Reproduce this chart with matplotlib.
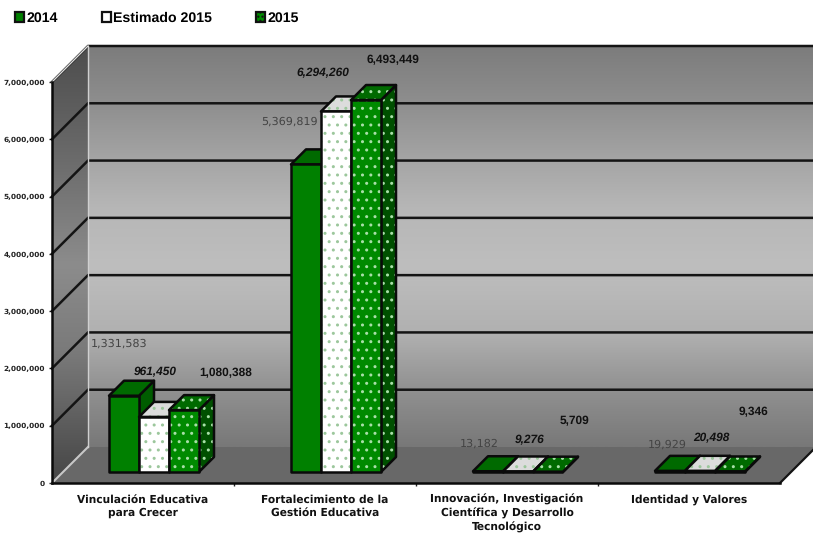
import numpy as np
import matplotlib
matplotlib.use("Agg")
import matplotlib.pyplot as plt
from matplotlib.colors import LinearSegmentedColormap
from matplotlib.patches import Polygon, Patch

categories = ["Vinculación Educativa\npara Crecer",
              "Fortalecimiento de la\nGestión Educativa",
              "Innovación, Investigación\nCientífica y Desarrollo\nTecnológico",
              "Identidad y Valores"]
series_names = ["2014", "Estimado 2015", "2015"]
v2014 = [1331583, 5369819, 13182, 19929]
vEst = [961450, 6294260, 9276, 20498]
v2015 = [1080388, 6493449, 5709, 9346]
y_ticks = [0, 1000000, 2000000, 3000000, 4000000, 5000000, 6000000, 7000000]

# label centre positions in figure pixels
lab2014 = [(119, 344), (289, 122), (479, 444), (667, 445)]
labEst = [(155, 372), (323, 73), (530, 440), (711, 438)]
lab2015 = [(226, 373), (393, 60), (575, 421), (753, 412)]

W, H = 813, 533
L, R, B, T = 52, 780, 483, 82
plt.rcParams["text.hinting"] = "no_hinting"
fig = plt.figure(figsize=(W / 100, H / 100), dpi=100, facecolor="white")
ax = fig.add_axes([L / W, 1 - B / H, (R - L) / W, (B - T) / H])
ax.set_facecolor("none")
plt.rcParams["font.family"] = ["Liberation Sans", "DejaVu Sans"]
plt.rcParams["hatch.linewidth"] = 1.0

PX_X = 4 / (R - L)
PX_Y = 7e6 / (B - T)
DEPTH = 36


def dpt(x, y, d=0.0):
    """Oblique projection: d pixels backwards."""
    return (x + d * PX_X, y + d * PX_Y)


def from_px(px, py):
    return ((px - L) * PX_X, (B - py) * PX_Y)


def poly(pts, **kw):
    p = Polygon(pts, closed=True, clip_on=False, **kw)
    ax.add_patch(p)
    return p


def grad(stops, x0, x1, y0, y1, clip, z=0):
    cmap = LinearSegmentedColormap.from_list("g", stops)
    g = np.linspace(0, 1, 256).reshape(-1, 1)
    im = ax.imshow(g, cmap=cmap, extent=[x0, x1, y0, y1], aspect="auto",
                   origin="upper", zorder=z)
    p = Polygon(clip, closed=True, transform=ax.transData, fill=False, lw=0, clip_on=False)
    ax.add_patch(p)
    im.set_clip_path(p)
    im.set_clip_box(fig.bbox)


ymax = 7e6
XR = 4 + 34 * PX_X  # wall ends at the picture edge
# back wall
wall = [dpt(0, 0, DEPTH), dpt(XR, 0, DEPTH), dpt(XR, ymax, DEPTH), dpt(0, ymax, DEPTH)]
wall_stops = [(0, "#7c7c7c"), (0.14, "#8e8e8e"), (0.29, "#a6a6a6"), (0.40, "#b6b6b6"),
              (0.55, "#bebebe"), (0.72, "#b0b0b0"), (0.85, "#929292"), (1, "#787878")]
grad(wall_stops, wall[0][0], wall[1][0], wall[0][1], wall[2][1], wall, z=1)
# left wall
lw_pts = [dpt(0, 0), dpt(0, 0, DEPTH), dpt(0, ymax, DEPTH), dpt(0, ymax)]
lw_stops = [(0, "#4d4d4d"), (0.25, "#6a6a6a"), (0.5, "#8c8c8c"), (0.7, "#7a7a7a"), (1, "#454545")]
grad(lw_stops, lw_pts[0][0], lw_pts[1][0], lw_pts[0][1], lw_pts[2][1], lw_pts, z=1)
# floor
poly([dpt(0, 0), dpt(4, 0), dpt(4, 0, DEPTH), dpt(0, 0, DEPTH)], fc="#686868", ec="none", zorder=2)

# grid lines
for v in y_ticks[1:]:
    a, b, c = dpt(0, v), dpt(0, v, DEPTH), dpt(XR, v, DEPTH)
    ax.plot([a[0], b[0], c[0]], [a[1], b[1], c[1]], color="#141414", lw=1.8,
            clip_on=False, zorder=3, solid_joinstyle="miter")
# frame edges
a, b, c = dpt(0, 0), dpt(0, 0, DEPTH), dpt(0, ymax, DEPTH)
ax.plot([a[0], b[0]], [a[1], b[1]], color="#c8c8c8", lw=1.5, clip_on=False, zorder=3)
ax.plot([b[0], c[0]], [b[1], c[1]], color="#d0d0d0", lw=1.0, clip_on=False, zorder=3)
a, b = dpt(4, 0), dpt(4, 0, 34)
ax.plot([a[0], b[0]], [a[1], b[1]], color="#141414", lw=1.6, clip_on=False, zorder=3)
a, b = dpt(0, ymax), dpt(0, ymax, DEPTH)
ax.plot([a[0], b[0]], [a[1], b[1]], color="#dddddd", lw=1.0, clip_on=False, zorder=3)

# bars
BW = 30 * PX_X
D0, D1 = 11, 26
styles = [
    dict(front="#008000", top="#006a00", side="#005c00", hatch=None, hc=None),
    dict(front="#ffffff", top="#dcdcdc", side="#dcdcdc", hatch="..", hc="#9cc79c"),
    dict(front="#008a00", top="#006a00", side="#005000", hatch="..", hc="#a8dfa8"),
]
series = [v2014, vEst, v2015]
for i in range(len(categories)):
    for j, vals in enumerate(series):
        s = styles[j]
        v = vals[i]
        x0 = i + 0.5 + (j - 1.5) * BW
        x1 = x0 + BW
        faces = [
            ([dpt(x1, 0, D0), dpt(x1, 0, D1), dpt(x1, v, D1), dpt(x1, v, D0)], s["side"]),
            ([dpt(x0, v, D0), dpt(x1, v, D0), dpt(x1, v, D1), dpt(x0, v, D1)], s["top"]),
            ([dpt(x0, 0, D0), dpt(x1, 0, D0), dpt(x1, v, D0), dpt(x0, v, D0)], s["front"]),
        ]
        z = 4 + i + j * 0.1
        for pts, col in faces:
            if s["hatch"]:
                poly(pts, fc=col, ec=s["hc"], hatch=s["hatch"], lw=0, zorder=z)
            else:
                poly(pts, fc=col, ec="none", zorder=z)
            poly(pts, fc="none", ec="#0a0a0a", lw=1.8, zorder=z, joinstyle="round")

# value labels
for vals, pos, kw in [
    (v2014, lab2014, dict(family="DejaVu Sans", fontsize=8, color="#444444")),
    (vEst, labEst, dict(fontsize=8.6, fontweight="bold", fontstyle="italic", color="#111111")),
    (v2015, lab2015, dict(fontsize=8.6, fontweight="bold", color="#111111")),
]:
    for v, (px, py) in zip(vals, pos):
        x, y = from_px(px, py)
        ax.text(x, y, f"{v:,}", ha="center", va="center", clip_on=False, zorder=20, **kw)

# axes
ax.set_xlim(0, 4)
ax.set_ylim(0, ymax)
for k in ["top", "right"]:
    ax.spines[k].set_visible(False)
for k in ["left", "bottom"]:
    ax.spines[k].set_color("#0a0a0a")
    ax.spines[k].set_linewidth(1.8)
    ax.spines[k].set_zorder(15)
ax.set_yticks(y_ticks)
ax.set_yticklabels([f"{v:,}" for v in y_ticks], fontsize=5.3, fontweight="bold", color="#222222")
ax.tick_params(axis="y", length=2, width=1, pad=3, color="#222222")
ax.set_xticks([1, 2, 3])
ax.set_xticklabels([])
ax.set_xticks([0.5, 1.5, 2.5, 3.5], minor=True)
ax.set_xticklabels(categories, minor=True, fontsize=7.7, fontweight="bold", color="#111111",
                   linespacing=1.3)
ax.tick_params(axis="x", which="major", length=2, width=1, color="#222222")
ax.tick_params(axis="x", which="minor", length=0, pad=8)

# legend
handles = [Patch(fc="#008000", ec="#111111", lw=1.6),
           Patch(fc="#ffffff", ec="#111111", lw=1.6),
           Patch(fc="#008a00", ec="#111111", lw=1.6, hatch="....")]
fig.legend(handles, series_names, ncol=3, loc="upper left", bbox_to_anchor=(15 / W, 1 - 12 / H),
           bbox_transform=fig.transFigure, frameon=False, handlelength=0.65, handleheight=0.65,
           handletextpad=0.15, columnspacing=3.1, borderpad=0, borderaxespad=0,
           prop=dict(family="Liberation Sans", size=10.2, weight="bold"))

fig.savefig("out.png", dpi=100, facecolor="white")
